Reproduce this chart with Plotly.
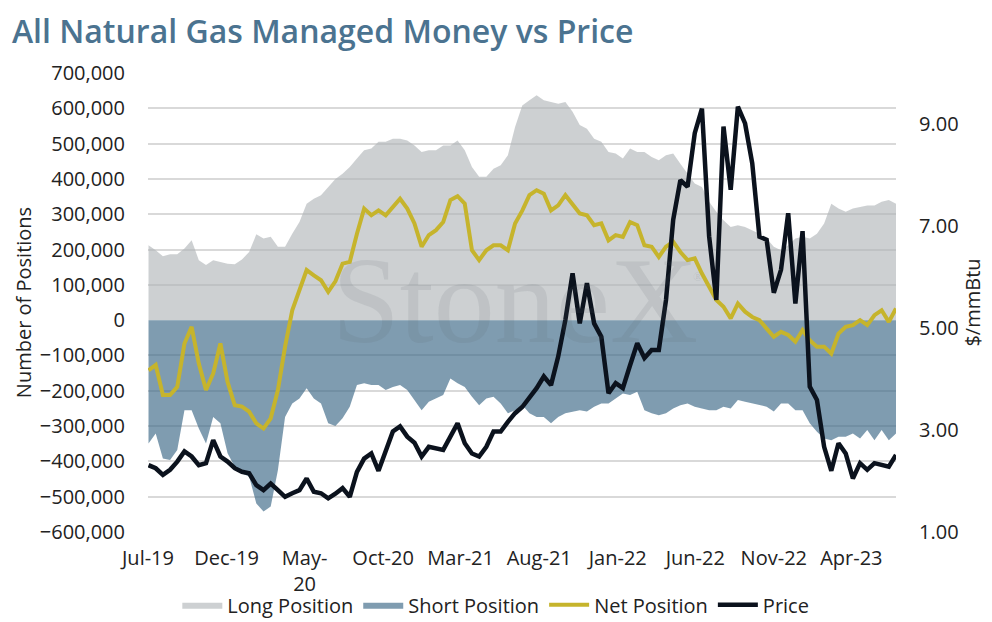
import pandas as pd
import plotly.graph_objects as go

# fortnightly observations, Jul-19 to Jun-23
dates = pd.date_range("2019-07-02", periods=105, freq="14D")

# managed money positions (thousand contracts)
long_pos = [212, 198, 181, 187, 187, 203, 226, 170, 156, 170, 165, 160, 158, 172, 193, 243, 231, 236, 208, 208,
            245, 278, 330, 344, 354, 377, 400, 415, 434, 458, 481, 486, 505, 505, 514, 514, 509, 495, 476, 481,
            481, 495, 495, 509, 481, 434, 406, 406, 429, 439, 467, 547, 608, 623, 637, 623, 618, 613, 618, 590,
            553, 542, 514, 505, 476, 472, 458, 486, 476, 476, 462, 453, 467, 472, 443, 415, 387, 377, 335, 307,
            283, 264, 269, 264, 255, 245, 231, 208, 198, 212, 231, 236, 231, 245, 274, 330, 316, 307, 316, 321,
            325, 325, 335, 340, 330]
short_pos = [-349, -321, -392, -396, -368, -255, -255, -307, -349, -274, -292, -377, -415, -434, -443, -519, -542,
             -528, -425, -274, -236, -222, -193, -222, -236, -292, -300, -278, -245, -184, -179, -184, -184, -198,
             -189, -184, -198, -226, -255, -231, -222, -212, -165, -179, -189, -217, -241, -222, -217, -236, -264,
             -255, -240, -264, -274, -274, -292, -274, -264, -259, -255, -259, -245, -236, -236, -222, -208, -212,
             -203, -255, -264, -269, -264, -250, -241, -236, -245, -250, -255, -255, -245, -250, -226, -231, -236,
             -241, -245, -259, -236, -236, -255, -255, -292, -316, -335, -340, -330, -330, -321, -335, -311, -340,
             -311, -340, -321]
net_pos = [-142, -127, -212, -212, -189, -66, -19, -123, -198, -151, -66, -175, -241, -245, -259, -292, -307, -278,
           -198, -75, 28, 85, 142, 127, 113, 80, 110, 160, 165, 245, 316, 297, 311, 297, 321, 344, 316, 274, 208,
           241, 255, 278, 340, 351, 330, 198, 170, 198, 212, 212, 198, 274, 310, 354, 368, 358, 311, 325, 354, 330,
           302, 297, 269, 274, 226, 241, 236, 278, 269, 212, 208, 179, 208, 222, 193, 170, 175, 132, 94, 57, 38, 5,
           47, 24, 9, 0, -24, -47, -33, -42, -61, -28, -57, -75, -75, -95, -38, -19, -14, 0, -14, 14, 28, -5, 33]
# Henry Hub price ($/mmBtu)
price = [2.31, 2.25, 2.12, 2.22, 2.38, 2.58, 2.48, 2.31, 2.35, 2.80, 2.48, 2.38, 2.25, 2.18, 2.15, 1.92, 1.82, 1.95,
         1.82, 1.69, 1.76, 1.82, 2.05, 1.79, 1.76, 1.66, 1.75, 1.86, 1.69, 2.18, 2.44, 2.54, 2.20, 2.58, 2.97, 3.07,
         2.87, 2.75, 2.48, 2.67, 2.64, 2.61, 2.87, 3.13, 2.74, 2.54, 2.48, 2.67, 2.97, 2.97, 3.16, 3.33, 3.45, 3.62,
         3.82, 4.05, 3.88, 4.44, 5.16, 6.07, 5.09, 5.88, 5.09, 4.83, 3.72, 3.92, 3.82, 4.27, 4.70, 4.41, 4.57, 4.57,
         5.55, 7.12, 7.90, 7.77, 8.82, 9.30, 6.80, 5.55, 8.95, 7.71, 9.34, 9.01, 8.23, 6.79, 6.73, 5.69, 6.14, 7.25,
         5.48, 6.90, 3.85, 3.59, 2.67, 2.20, 2.74, 2.54, 2.05, 2.35, 2.22, 2.35, 2.31, 2.28, 2.51]

tick_dates = ["2019-07-01", "2019-12-01", "2020-05-01", "2020-10-01", "2021-03-01",
              "2021-08-01", "2022-01-01", "2022-06-01", "2022-11-01", "2023-04-01"]
tick_text = ["Jul-19", "Dec-19", "May-<br>20", "Oct-20", "Mar-21", "Aug-21", "Jan-22", "Jun-22", "Nov-22", "Apr-23"]

font = "Open Sans, Lato, Arial, sans-serif"
ink = "#222222"
fs = 20

fig = go.Figure()
fig.add_trace(go.Scatter(x=dates, y=[v * 1000 for v in long_pos], name="Long Position", mode="lines",
                         line=dict(width=0), fill="tozeroy", fillcolor="rgba(176,182,185,0.64)"))
fig.add_trace(go.Scatter(x=dates, y=[v * 1000 for v in short_pos], name="Short Position", mode="lines",
                         line=dict(width=0), fill="tozeroy", fillcolor="rgba(61,105,135,0.66)"))
fig.add_trace(go.Scatter(x=dates, y=[v * 1000 for v in net_pos], name="Net Position", mode="lines",
                         line=dict(color="#c6b42c", width=4)))
fig.add_trace(go.Scatter(x=dates, y=price, name="Price", mode="lines", yaxis="y2",
                         line=dict(color="#0b121d", width=4.5)))

# watermark
fig.add_annotation(text="StoneX", xref="paper", yref="paper", x=0.49, y=0.505, showarrow=False,
                   font=dict(family="Liberation Serif, DejaVu Serif, serif", size=122,
                             color="rgba(90,100,105,0.12)"))
fig.add_annotation(text="®", xref="paper", yref="paper", x=0.745, y=0.556, showarrow=False,
                   font=dict(family="Liberation Serif, serif", size=13, color="rgba(90,100,105,0.15)"))

# the page body adds 8px on the left and top, so the figure is sized to the visible area
fig.update_layout(
    width=984,
    height=614,
    margin=dict(l=140, r=96, t=65, b=90, autoexpand=False),
    paper_bgcolor="white",
    plot_bgcolor="white",
    font=dict(family=font, size=fs, color=ink),
    title=dict(text="All Natural Gas Managed Money vs Price", x=0.004, xanchor="left",
               y=0.962, yanchor="middle",
               font=dict(family=font, size=32, color="#4b7390", weight=600)),
    xaxis=dict(range=["2019-07-01", "2023-06-27"], tickvals=tick_dates, ticktext=tick_text, automargin=False,
               showgrid=False, zeroline=False, showline=False, ticks="", tickangle=0, ticklabelstandoff=12,
               tickfont=dict(size=fs, color=ink)),
    yaxis=dict(range=[-600000, 700000], dtick=100000, tickformat=",d", gridcolor="#d9d9d9", gridwidth=1.5,
               zeroline=True, zerolinecolor="white", zerolinewidth=2, ticklabelstandoff=22, automargin=False,
               tickfont=dict(size=fs, color=ink),
               title=dict(text="Number of Positions", font=dict(size=fs, color=ink), standoff=2)),
    yaxis2=dict(range=[1, 10], tickvals=[1, 3, 5, 7, 9], tickformat=".2f", overlaying="y", side="right",
                showgrid=False, zeroline=False, ticklabelstandoff=22, automargin=False,
                tickfont=dict(size=fs, color=ink),
                title=dict(text="$/mmBtu", font=dict(size=fs, color=ink), standoff=2)),
    legend=dict(orientation="h", x=0.465, xanchor="center", yref="container", y=0.028, yanchor="middle",
                bgcolor="rgba(0,0,0,0)", font=dict(size=fs, color=ink), itemwidth=40, traceorder="normal"),
    showlegend=True,
)

fig.write_html("out.html")
